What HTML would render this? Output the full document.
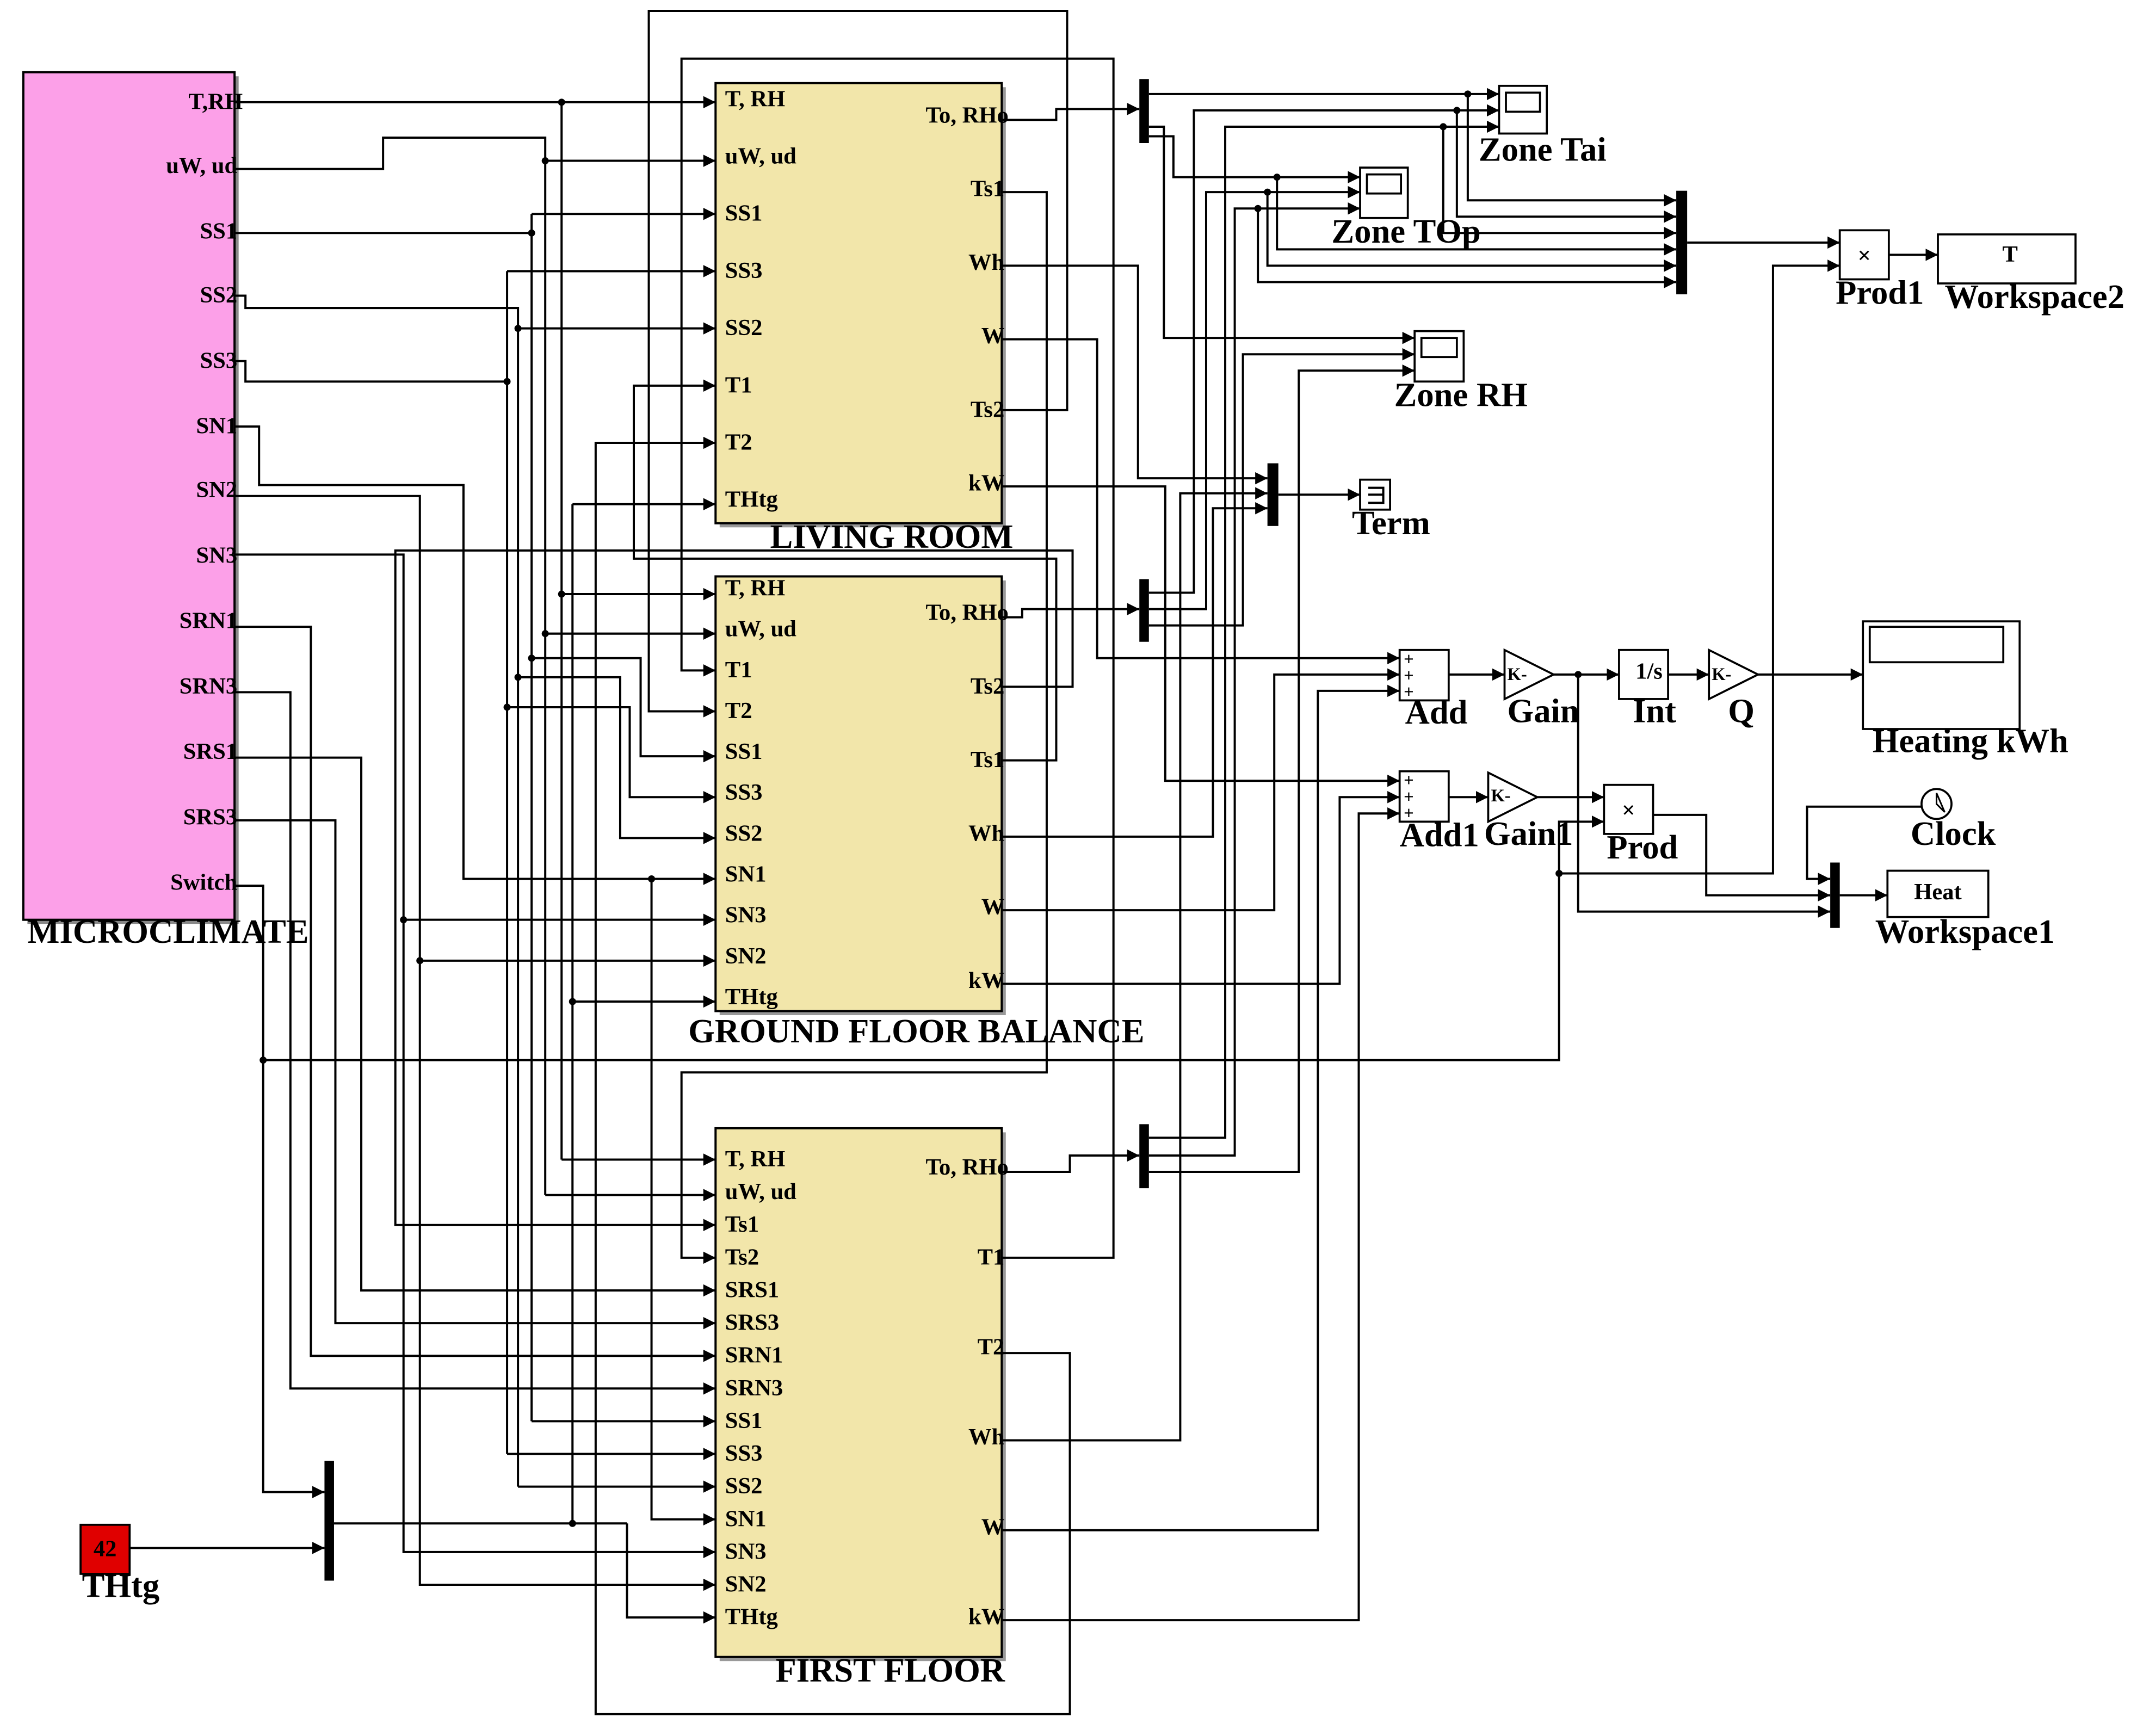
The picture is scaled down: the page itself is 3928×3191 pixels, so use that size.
<!DOCTYPE html>
<html><head><meta charset="utf-8">
<style>
html,body{margin:0;padding:0;background:#fff;}
svg{display:block;}
.w{fill:none;stroke:#000;stroke-width:1.6;}
.a{fill:none;stroke:#000;stroke-width:1.6;marker-end:url(#ar);}
.p{font-family:"Liberation Serif",serif;font-weight:bold;font-size:17px;}
.L{font-family:"Liberation Serif",serif;font-weight:bold;font-size:25px;}
.pl{font-family:"Liberation Serif",serif;font-weight:bold;font-size:13px;}
.blk{fill:#f2e6aa;stroke:#000;stroke-width:1.6;}
.box{fill:#fff;stroke:#000;stroke-width:1.5;}
</style></head>
<body>
<svg width="3928" height="3191" viewBox="0 0 1568 1274" xmlns="http://www.w3.org/2000/svg">
<defs>
<marker id="ar" viewBox="0 0 10 10" refX="10" refY="5" markerWidth="9" markerHeight="9" markerUnits="userSpaceOnUse" orient="auto"><path d="M0,0 L10,5 L0,10 z" fill="#000"/></marker>
</defs>

<!-- MICROCLIMATE -->
<rect x="20" y="56" width="155" height="622" fill="#888"/>
<rect x="17" y="53" width="155" height="622" fill="#fca0e8" stroke="#000" stroke-width="1.6"/>
<g class="p" text-anchor="end">
<text x="178" y="80">T,RH</text><text x="174" y="127">uW, ud</text><text x="174" y="175">SS1</text>
<text x="174" y="222">SS2</text><text x="174" y="270">SS3</text><text x="174" y="318">SN1</text>
<text x="174" y="365">SN2</text><text x="174" y="413">SN3</text><text x="174" y="461">SRN1</text>
<text x="174" y="509">SRN3</text><text x="174" y="557">SRS1</text><text x="174" y="605">SRS3</text>
<text x="174" y="653">Switch</text></g>
<text class="L" x="20" y="692">MICROCLIMATE</text>

<!-- Blocks -->
<rect x="528" y="64" width="210" height="323" fill="#999"/>
<rect class="blk" x="525" y="61" width="210" height="323"/>
<rect x="528" y="426" width="210" height="319" fill="#999"/>
<rect class="blk" x="525" y="423" width="210" height="319"/>
<rect x="528" y="831" width="210" height="388" fill="#999"/>
<rect class="blk" x="525" y="828" width="210" height="388"/>

<g class="p">
<text x="532" y="78">T, RH</text><text x="532" y="120">uW, ud</text><text x="532" y="162">SS1</text>
<text x="532" y="204">SS3</text><text x="532" y="246">SS2</text><text x="532" y="288">T1</text>
<text x="532" y="330">T2</text><text x="532" y="372">THtg</text>
<text x="532" y="437">T, RH</text><text x="532" y="467">uW, ud</text><text x="532" y="497">T1</text>
<text x="532" y="527">T2</text><text x="532" y="557">SS1</text><text x="532" y="587">SS3</text>
<text x="532" y="617">SS2</text><text x="532" y="647">SN1</text><text x="532" y="677">SN3</text>
<text x="532" y="707">SN2</text><text x="532" y="737">THtg</text>
<text x="532" y="856">T, RH</text><text x="532" y="880">uW, ud</text><text x="532" y="904">Ts1</text>
<text x="532" y="928">Ts2</text><text x="532" y="952">SRS1</text><text x="532" y="976">SRS3</text>
<text x="532" y="1000">SRN1</text><text x="532" y="1024">SRN3</text><text x="532" y="1048">SS1</text>
<text x="532" y="1072">SS3</text><text x="532" y="1096">SS2</text><text x="532" y="1120">SN1</text>
<text x="532" y="1144">SN3</text><text x="532" y="1168">SN2</text><text x="532" y="1192">THtg</text>
</g>
<g class="p" text-anchor="end">
<text x="740" y="90">To, RHo</text><text x="737" y="144">Ts1</text><text x="737" y="198">Wh</text>
<text x="737" y="252">W</text><text x="737" y="306">Ts2</text><text x="737" y="360">kW</text>
<text x="740" y="455">To, RHo</text><text x="737" y="509">Ts2</text><text x="737" y="563">Ts1</text>
<text x="737" y="617">Wh</text><text x="737" y="671">W</text><text x="737" y="725">kW</text>
<text x="740" y="862">To, RHo</text><text x="737" y="928">T1</text><text x="737" y="994">T2</text>
<text x="737" y="1060">Wh</text><text x="737" y="1126">W</text><text x="737" y="1192">kW</text>
</g>
<text class="L" x="565" y="402">LIVING ROOM</text>
<text class="L" x="505" y="765">GROUND FLOOR BALANCE</text>
<text class="L" x="569" y="1234">FIRST FLOOR</text>

<!-- Left wiring -->
<path class="a" d="M172 75 H525"/>
<path class="w" d="M412 75 V851"/><path class="a" d="M412 851 H525"/><path class="a" d="M412 436 H525"/>
<path class="w" d="M172 124 H281 V101 H400 V877"/><path class="a" d="M400 877 H525"/><path class="a" d="M400 118 H525"/><path class="a" d="M400 465 H525"/>
<path class="w" d="M172 171 H390"/><path class="w" d="M390 157 V1043"/><path class="a" d="M390 157 H525"/><path class="a" d="M390 1043 H525"/><path class="a" d="M390 483 H470 V555 H525"/>
<path class="w" d="M172 217 H180 V226 H380 V1091"/><path class="a" d="M380 1091 H525"/><path class="a" d="M380 241 H525"/><path class="a" d="M380 497 H455 V615 H525"/>
<path class="w" d="M172 265 H180 V280 H372"/><path class="w" d="M372 199 V1067"/><path class="a" d="M372 199 H525"/><path class="a" d="M372 1067 H525"/><path class="a" d="M372 519 H462 V585 H525"/>
<path class="a" d="M172 313 H190 V356 H340 V645 H525"/><path class="a" d="M478 645 V1115 H525"/>
<path class="a" d="M172 364 H308 V1163 H525"/><path class="a" d="M308 705 H525"/>
<path class="a" d="M172 407 H296 V1139 H525"/><path class="a" d="M296 675 H525"/>
<path class="a" d="M172 460 H228 V995 H525"/>
<path class="a" d="M172 508 H213 V1019 H525"/>
<path class="a" d="M172 556 H265 V947 H525"/>
<path class="a" d="M172 602 H246 V971 H525"/>
<path class="a" d="M172 650 H193 V1095 H238"/>
<path class="a" d="M193 778 H1144 V603 H1177"/>
<path class="a" d="M95 1136 H238"/>
<path class="w" d="M245 1118 H460"/>
<path class="w" d="M420 1118 V370"/><path class="a" d="M420 370 H525"/><path class="a" d="M420 735 H525"/>
<path class="a" d="M460 1118 V1187 H525"/>
<!-- feedback loops -->
<path class="a" d="M735 923 H817 V43 H500 V492 H525"/>
<path class="a" d="M735 993 H785 V1258 H437 V325 H525"/>
<path class="a" d="M735 301 H783 V8 H476 V522 H525"/>
<path class="a" d="M735 141 H768 V787 H500 V923 H525"/>
<path class="a" d="M735 558 H775 V410 H465 V283 H525"/>
<path class="a" d="M735 504 H787 V404 H290 V899 H525"/>

<!-- dots -->
<g fill="#000">
<circle cx="412" cy="75" r="2.6"/><circle cx="412" cy="436" r="2.6"/><circle cx="400" cy="118" r="2.6"/><circle cx="400" cy="465" r="2.6"/>
<circle cx="390" cy="171" r="2.6"/><circle cx="390" cy="483" r="2.6"/><circle cx="380" cy="241" r="2.6"/><circle cx="380" cy="497" r="2.6"/>
<circle cx="372" cy="280" r="2.6"/><circle cx="372" cy="519" r="2.6"/><circle cx="478" cy="645" r="2.6"/><circle cx="308" cy="705" r="2.6"/>
<circle cx="296" cy="675" r="2.6"/><circle cx="193" cy="778" r="2.6"/><circle cx="420" cy="735" r="2.6"/><circle cx="420" cy="1118" r="2.6"/>
<circle cx="1144" cy="641" r="2.6"/><circle cx="1158" cy="495" r="2.6"/>
<circle cx="1077" cy="69" r="2.6"/><circle cx="1069" cy="81" r="2.6"/><circle cx="1059" cy="93" r="2.6"/>
<circle cx="937" cy="130" r="2.6"/><circle cx="930" cy="141" r="2.6"/><circle cx="923" cy="153" r="2.6"/>
</g>

<!-- THtg const -->
<rect x="59" y="1119" width="36" height="36" fill="#e00000" stroke="#000" stroke-width="1.5"/>
<text class="p" x="77" y="1142" text-anchor="middle">42</text>
<text class="L" x="60" y="1172">THtg</text>

<!-- Muxes -->
<rect x="238" y="1072" width="7" height="88" fill="#000"/>
<rect x="836" y="58" width="7" height="47" fill="#000"/>
<rect x="836" y="425" width="7" height="46" fill="#000"/>
<rect x="836" y="825" width="7" height="47" fill="#000"/>
<rect x="930" y="340" width="8" height="46" fill="#000"/>
<rect x="1230" y="140" width="8" height="76" fill="#000"/>
<rect x="1343" y="633" width="7" height="48" fill="#000"/>

<!-- block outputs to muxes -->
<path class="a" d="M735 88 H775 V80 H836"/>
<path class="a" d="M735 453 H750 V447 H836"/>
<path class="a" d="M735 860 H785 V848 H836"/>
<path class="a" d="M735 195 H835 V351 H930"/>
<path class="a" d="M735 1057 H866 V362 H930"/>
<path class="a" d="M735 614 H890 V373 H930"/>
<path class="a" d="M735 249 H805 V483 H1027"/>
<path class="a" d="M735 668 H935 V495 H1027"/>
<path class="a" d="M735 1123 H967 V507 H1027"/>
<path class="a" d="M735 357 H855 V573 H1027"/>
<path class="a" d="M735 722 H983 V585 H1027"/>
<path class="a" d="M735 1189 H997 V597 H1027"/>
<path class="a" d="M938 363 H998"/>

<!-- mux outputs to scopes -->
<path class="a" d="M843 69 H1100"/>
<path class="a" d="M843 93 H854 V248 H1038"/>
<path class="a" d="M843 100 H861 V130 H998"/>
<path class="a" d="M843 435 H876 V81 H1100"/>
<path class="a" d="M843 447 H885 V141 H998"/>
<path class="a" d="M843 459 H912 V260 H1038"/>
<path class="a" d="M843 835 H899 V93 H1100"/>
<path class="a" d="M843 848 H906 V153 H998"/>
<path class="a" d="M843 860 H953 V272 H1038"/>
<!-- to big mux -->
<path class="a" d="M1077 69 V147 H1230"/>
<path class="a" d="M1069 81 V159 H1230"/>
<path class="a" d="M1059 93 V171 H1230"/>
<path class="a" d="M937 130 V183 H1230"/>
<path class="a" d="M930 141 V195 H1230"/>
<path class="a" d="M923 153 V207 H1230"/>
<path class="a" d="M1238 178 H1350"/>
<path class="a" d="M1144 641 H1301 V195 H1350"/>
<path class="a" d="M1386 187 H1422"/>

<!-- Scopes -->
<rect class="box" x="1100" y="63" width="35" height="35"/><rect class="box" x="1105" y="68" width="25" height="14"/>
<text class="L" x="1085" y="118">Zone Tai</text>
<rect class="box" x="998" y="123" width="35" height="37"/><rect class="box" x="1003" y="128" width="25" height="14"/>
<text class="L" x="977" y="178">Zone TOp</text>
<rect class="box" x="1038" y="243" width="36" height="37"/><rect class="box" x="1043" y="248" width="26" height="14"/>
<text class="L" x="1023" y="298">Zone RH</text>
<rect class="box" x="998" y="352" width="22" height="22"/>
<path class="w" d="M1004 358 H1015 V369 H1004 M1004 363 H1015" stroke-width="1"/>
<text class="L" x="992" y="392">Term</text>

<!-- Prod1 / Workspace2 -->
<rect class="box" x="1350" y="169" width="36" height="36"/><text class="p" x="1368" y="193" text-anchor="middle">×</text>
<text class="L" x="1347" y="223">Prod1</text>
<rect class="box" x="1422" y="172" width="101" height="36"/><text class="p" x="1475" y="192" text-anchor="middle">T</text>
<text class="L" x="1427" y="226">Workspace2</text>

<!-- Add chain -->
<rect class="box" x="1027" y="477" width="36" height="37"/>
<rect class="box" x="1027" y="566" width="36" height="37"/>
<g class="pl"><text x="1030" y="488">+</text><text x="1030" y="500">+</text><text x="1030" y="512">+</text>
<text x="1030" y="577">+</text><text x="1030" y="589">+</text><text x="1030" y="601">+</text></g>
<text class="L" x="1031" y="531">Add</text>
<path class="a" d="M1063 495 H1104"/>
<path class="box" d="M1104 477 L1140 495 L1104 513 Z"/><text class="pl" x="1106" y="499">K-</text>
<text class="L" x="1106" y="530">Gain</text>
<path class="a" d="M1140 495 H1188"/>
<rect class="box" x="1188" y="477" width="36" height="36"/><text class="p" x="1210" y="498" text-anchor="middle">1/s</text>
<text class="L" x="1198" y="530">Int</text>
<path class="a" d="M1224 495 H1254"/>
<path class="box" d="M1254 477 L1290 495 L1254 513 Z"/><text class="pl" x="1256" y="499">K-</text>
<text class="L" x="1268" y="530">Q</text>
<path class="a" d="M1290 495 H1367"/>
<rect class="box" x="1367" y="456" width="115" height="79"/><rect class="box" x="1372" y="460" width="98" height="26" stroke-width="2"/>
<text class="L" x="1374" y="552">Heating kWh</text>
<path class="a" d="M1158 495 V669 H1343"/>

<text class="L" x="1027" y="621">Add1</text>
<path class="a" d="M1063 585 H1092"/>
<path class="box" d="M1092 567 L1128 585 L1092 603 Z"/><text class="pl" x="1094" y="588">K-</text>
<text class="L" x="1089" y="620">Gain1</text>
<path class="a" d="M1128 585 H1177"/>
<rect class="box" x="1177" y="576" width="36" height="36"/><text class="p" x="1195" y="600" text-anchor="middle">×</text>
<text class="L" x="1179" y="630">Prod</text>
<path class="a" d="M1213 598 H1252 V657 H1343"/>

<!-- Clock / Heat -->
<circle cx="1421" cy="590" r="11" fill="#fff" stroke="#000" stroke-width="1.5"/>
<path d="M1421 582 V590 L1427 596 Z" fill="none" stroke="#000" stroke-width="1.2"/>
<text class="L" x="1402" y="620">Clock</text>
<path class="a" d="M1410 592 H1326 V645 H1343"/>
<path class="a" d="M1350 657 H1385"/>
<rect class="box" x="1385" y="639" width="74" height="34"/><text class="p" x="1422" y="660" text-anchor="middle">Heat</text>
<text class="L" x="1376" y="692">Workspace1</text>
</svg>
</body></html>
